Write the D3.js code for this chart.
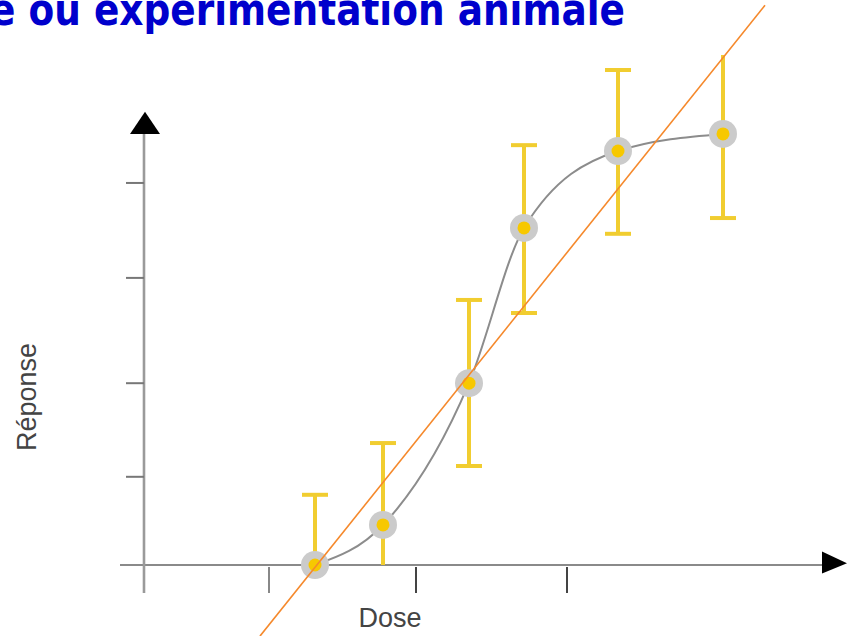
<!DOCTYPE html>
<html>
<head>
<meta charset="utf-8">
<script src="https://cdn.jsdelivr.net/npm/d3@7"></script>
<style>
  body { margin: 0; background: #fff; }
  svg { display: block; }
</style>
</head>
<body>
<svg id="viz" width="848" height="636"></svg>
<script>
const svg = d3.select("#viz");

// données (dose en unités arbitraires, réponse en %)
const doses = [3.42, 4.78, 6.5, 7.6, 9.48, 11.58];
const responses = [0, 8.9, 40.4, 74.9, 92.0, 95.8];
const errHigh = [15.6, 27.1, 58.9, 93.3, 110, 116];
const errLow = [0, 0, 22.0, 56.0, 73.6, 77.1];
const doseTicks = [2.5, 5.44, 8.46];
const responseTicks = [19.6, 40.4, 63.8, 84.9];
// droite de régression (deux extrémités)
const fitDose = [2.32, 12.42];
const fitResponse = [-15.8, 124.4];

const titleText = "e ou expérimentation animale";
const xLabel = "Dose";
const yLabel = "Réponse";

// échelles
const x = d3.scaleLinear().domain([0, 14]).range([144, 844]);
const y = d3.scaleLinear().domain([0, 100]).range([565, 115]);

// titre
svg.append("text")
  .attr("x", -10)
  .attr("y", 25)
  .attr("textLength", 635)
  .attr("lengthAdjust", "spacingAndGlyphs")
  .style("font-family", "'Liberation Sans Narrow', 'DejaVu Sans Condensed', sans-serif")
  .style("font-weight", "bold")
  .style("font-size", "44px")
  .attr("fill", "#0000cc")
  .text(titleText);

// zone de l'image du graphique (coupée en haut)
svg.append("clipPath").attr("id", "imgClip")
  .append("rect").attr("x", 0).attr("y", 55).attr("width", 848).attr("height", 581);

const g = svg.append("g").attr("clip-path", "url(#imgClip)");

// axes
const axisG = g.append("g");
axisG.append("line")
  .attr("x1", x(-0.48)).attr("x2", x(13.6))
  .attr("y1", y(0)).attr("y2", y(0))
  .attr("stroke", "#8a8a8a").attr("stroke-width", 2);
axisG.append("line")
  .attr("x1", x(0)).attr("x2", x(0))
  .attr("y1", y(-6.2)).attr("y2", y(97))
  .attr("stroke", "#9a9a9a").attr("stroke-width", 2.6);

// flèches
axisG.append("path")
  .attr("d", `M${x(0) + 1},${y(100.7)} L${x(0) - 14},${y(95.8)} L${x(0) + 16},${y(95.8)} Z`)
  .attr("fill", "#000");
axisG.append("path")
  .attr("d", `M${x(14.06)},${y(0.4)} L${x(13.56)},${y(3)} L${x(13.56)},${y(-1.9)} Z`)
  .attr("fill", "#000");

// graduations
axisG.selectAll(".xtick")
  .data(doseTicks)
  .enter().append("line")
  .attr("class", "xtick")
  .attr("x1", d => x(d)).attr("x2", d => x(d))
  .attr("y1", y(0) + 2).attr("y2", y(0) + 28)
  .attr("stroke", (d, i) => i === 0 ? "#888" : "#444")
  .attr("stroke-width", 2);

axisG.selectAll(".ytick")
  .data(responseTicks)
  .enter().append("line")
  .attr("class", "ytick")
  .attr("x1", x(0) - 18).attr("x2", x(0))
  .attr("y1", d => y(d)).attr("y2", d => y(d))
  .attr("stroke", "#777")
  .attr("stroke-width", 2);

const pts = doses.map((d, i) => ({
  dose: d, resp: responses[i], hi: errHigh[i], lo: errLow[i]
}));

// barres d'erreur
const errColor = "#f1cd30";
const capW = 13;
const errG = g.append("g");
errG.selectAll(".bar")
  .data(pts)
  .enter().append("line")
  .attr("x1", d => x(d.dose)).attr("x2", d => x(d.dose))
  .attr("y1", d => y(d.hi)).attr("y2", d => y(d.lo))
  .attr("stroke", errColor).attr("stroke-width", 4);
errG.selectAll(".capHi")
  .data(pts)
  .enter().append("line")
  .attr("x1", d => x(d.dose) - capW).attr("x2", d => x(d.dose) + capW)
  .attr("y1", d => y(d.hi)).attr("y2", d => y(d.hi))
  .attr("stroke", errColor).attr("stroke-width", 4);
errG.selectAll(".capLo")
  .data(pts.filter(d => d.lo > 0))
  .enter().append("line")
  .attr("x1", d => x(d.dose) - capW).attr("x2", d => x(d.dose) + capW)
  .attr("y1", d => y(d.lo)).attr("y2", d => y(d.lo))
  .attr("stroke", errColor).attr("stroke-width", 4);

// courbe sigmoïde
const curve = d3.line()
  .x(d => x(d.dose))
  .y(d => y(d.resp))
  .curve(d3.curveMonotoneX);
g.append("path")
  .datum(pts)
  .attr("d", curve)
  .attr("fill", "none")
  .attr("stroke", "#8c8c8c")
  .attr("stroke-width", 2);

// points
const ptG = g.append("g").selectAll("g")
  .data(pts)
  .enter().append("g")
  .attr("transform", d => `translate(${x(d.dose)},${y(d.resp)})`);
ptG.append("circle")
  .attr("r", 14)
  .attr("fill", "#cbcbcb");
ptG.append("circle")
  .attr("r", 6.5)
  .attr("fill", "#f7c800");

// libellés
svg.append("text")
  .attr("x", 390)
  .attr("y", 627)
  .attr("text-anchor", "middle")
  .style("font-family", "'Liberation Sans', Arial, sans-serif")
  .style("font-size", "27px")
  .attr("fill", "#444")
  .text(xLabel);

svg.append("text")
  .attr("transform", "translate(36,397) rotate(-90)")
  .attr("text-anchor", "middle")
  .style("font-family", "'Liberation Sans', Arial, sans-serif")
  .style("font-size", "27px")
  .attr("fill", "#444")
  .text(yLabel);

// droite ajustée
svg.append("line")
  .attr("x1", x(fitDose[0])).attr("y1", y(fitResponse[0]))
  .attr("x2", x(fitDose[1])).attr("y2", y(fitResponse[1]))
  .attr("stroke", "#f5892c")
  .attr("stroke-width", 1.6);
</script>
</body>
</html>
